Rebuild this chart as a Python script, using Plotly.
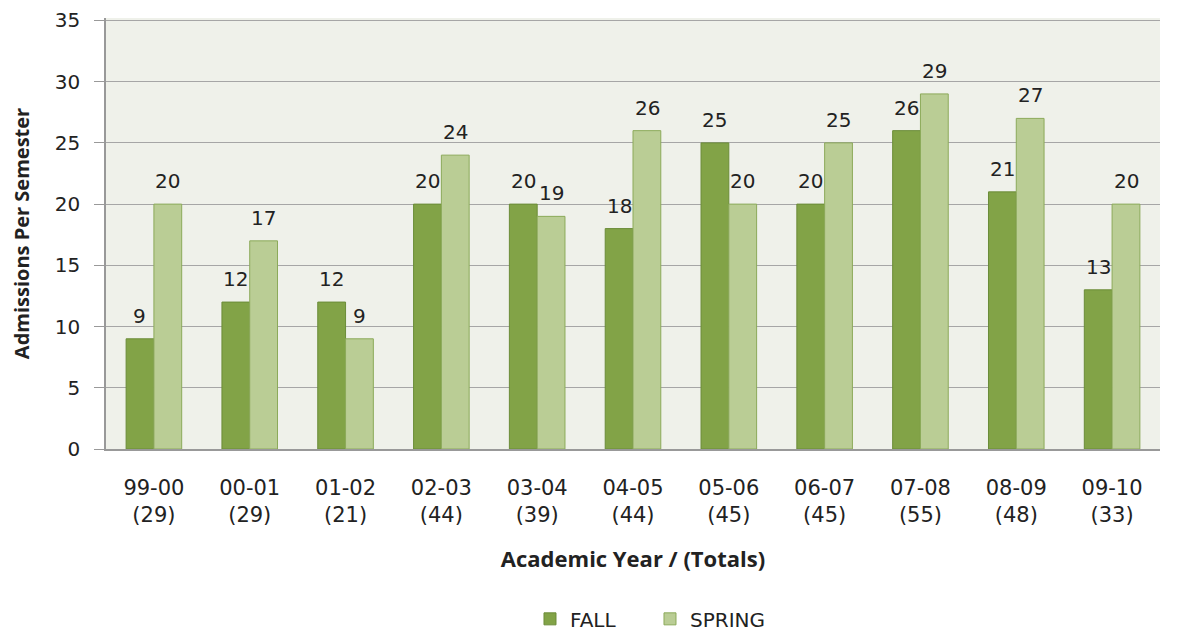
import plotly.graph_objects as go

years = ["99-00", "00-01", "01-02", "02-03", "03-04", "04-05", "05-06", "06-07", "07-08", "08-09", "09-10"]
totals = [29, 29, 21, 44, 39, 44, 45, 45, 55, 48, 33]
fall = [9, 12, 12, 20, 20, 18, 25, 20, 26, 21, 13]
spring = [20, 17, 9, 24, 19, 26, 20, 25, 29, 27, 20]
y_ticks = [0, 5, 10, 15, 20, 25, 30, 35]

cats = [f"{y}<br>({t})" for y, t in zip(years, totals)]

lbl_font = dict(family="DejaVu Sans", size=20, color="#222222")

fig = go.Figure()
fig.add_trace(go.Bar(x=cats, y=fall, name="FALL",
                     marker=dict(color="#82A347", line=dict(color="#6B8C38", width=1))))
fig.add_trace(go.Bar(x=cats, y=spring, name="SPRING",
                     marker=dict(color="#BACD95", line=dict(color="#8CAA5A", width=1))))

# value labels above each bar
for series, shift in ((fall, -14), (spring, 14)):
    for c, v in zip(cats, series):
        fig.add_annotation(x=c, y=v, text=str(v), showarrow=False, xshift=shift,
                           yanchor="bottom", yshift=9, font=lbl_font)

fig.update_layout(
    width=1177, height=633,
    margin=dict(l=98, r=25, t=10, b=192, autoexpand=False),
    paper_bgcolor="white", plot_bgcolor="#EFF1EA",
    barmode="group", bargap=0.42, bargroupgap=0,
    font=dict(family="DejaVu Sans", size=20, color="#222222"),
    showlegend=True,
    legend=dict(orientation="h", xref="container", x=0.4435, xanchor="left", yref="container", y=0.035,
                yanchor="middle", entrywidth=75, font=dict(size=20), traceorder="normal"),
    xaxis=dict(showline=True, linecolor="#999999", linewidth=1.5,
               tickfont=dict(size=21), ticks="", ticklabelstandoff=19,
               title=dict(text="<b>Academic Year / (Totals)</b>", font=dict(family="Open Sans", size=22), standoff=25)),
    yaxis=dict(range=[0, 35.2], tickvals=y_ticks, showgrid=True, gridcolor="#A6A6A6",
               gridwidth=1.2, showline=True, linecolor="#999999", linewidth=1.5, ticks="outside", ticklen=10,
               tickcolor="#999999", zeroline=False, tickfont=dict(size=20), ticklabelstandoff=10,
               ticklabeloverflow="allow",
               title=dict(text="<b>Admissions Per Semester</b>", font=dict(family="Open Sans", size=20), standoff=25)),
)

fig.write_html("out.html")
